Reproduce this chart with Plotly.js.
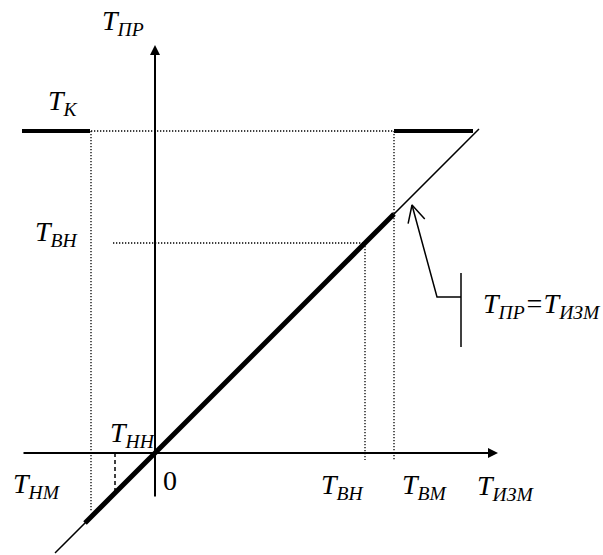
<!DOCTYPE html>
<html>
<head>
<meta charset="utf-8">
<script src="https://cdn.plot.ly/plotly-3.0.1.min.js"></script>
<style>html,body{margin:0;padding:0;background:#fff;}#chart{width:603px;height:555px;}</style>
</head>
<body>
<div id="chart"></div>
<script>
// Characteristic values (in the chart's own units, origin at 0)
const T_HM = -64;     // Т_НМ
const T_HH = -40;     // Т_НН
const T_BH = 210;     // Т_ВН
const T_BM = 239;     // Т_ВМ
const T_K  = 322;     // Т_К
const leftEnd = -133;  // left end of Т_К plateau
const rightEnd = 318;  // right end of Т_К plateau
const idealX = [-100, 324];       // ideal line Т_ПР = Т_ИЗМ
const workX  = [-70, T_BM];       // working (bold) part
const xAxisRange = [-133, 343];
const yAxisRange = [-45, 408];
const calloutTip = [257, 248];
const calloutElbow = [282, 156];
const calloutBar = [306, 106, 180];

const black = '#000';
const dotStyle = {color: '#000', width: 1.3, dash: '1.3px,1.7px'};
function seg(x, y, line) {
  return {type: 'scatter', mode: 'lines', x: x, y: y, line: line, hoverinfo: 'skip', showlegend: false};
}

// arrow wings for callout
const dx = calloutElbow[0] - calloutTip[0], dy = calloutElbow[1] - calloutTip[1];
const L = Math.hypot(dx, dy), ux = dx / L, uy = dy / L;
const wl = 19, ang = 27 * Math.PI / 180;
function rot(a) { return [calloutTip[0] + wl * (ux * Math.cos(a) - uy * Math.sin(a)), calloutTip[1] + wl * (ux * Math.sin(a) + uy * Math.cos(a))]; }
const w1 = rot(ang), w2 = rot(-ang);

const traces = [
  // dotted guide lines
  seg([T_HM, T_BM], [T_K, T_K], dotStyle),
  seg([T_HM, T_HM], [T_K, -59], dotStyle),
  seg([-42, T_BH], [T_BH, T_BH], dotStyle),
  seg([T_BH, T_BH], [T_BH, -7], dotStyle),
  seg([T_BM, T_BM], [T_K, -7], dotStyle),
  // dashed Т_НН
  seg([T_HH, T_HH], [0, T_HH], {color: black, width: 1.5, dash: '4px,3px'}),
  // ideal line
  seg(idealX, idealX, {color: black, width: 1.5}),
  // working bold part
  seg(workX, workX, {color: black, width: 5}),
  // Т_К plateaus
  seg([leftEnd, T_HM - 1], [T_K, T_K], {color: black, width: 4}),
  seg([T_BM, rightEnd], [T_K, T_K], {color: black, width: 4}),
  // callout
  seg([calloutTip[0], calloutElbow[0], calloutBar[0]], [calloutTip[1], calloutElbow[1], calloutElbow[1]], {color: black, width: 1.5}),
  seg([calloutBar[0], calloutBar[0]], [calloutBar[1], calloutBar[2]], {color: black, width: 1.5}),
  seg([w1[0], calloutTip[0], w2[0]], [w1[1], calloutTip[1], w2[1]], {color: black, width: 1.5})
];

const fam = 'Times New Roman, Liberation Serif, serif';
const font = {family: fam, size: 28, color: black};
function lab(text, x, y, xanchor) {
  return {text: '<i>' + text + '</i>', x: x, y: y, xref: 'x', yref: 'y', showarrow: false,
          xanchor: xanchor || 'left', yanchor: 'middle', font: font};
}
const annotations = [
  // axes with arrowheads
  {x: xAxisRange[1], y: 0, ax: xAxisRange[0], ay: 0, axref: 'x', ayref: 'y', xref: 'x', yref: 'y',
   showarrow: true, arrowhead: 2, arrowsize: 1, arrowwidth: 2, arrowcolor: black, text: ''},
  {x: 0, y: yAxisRange[1], ax: 0, ay: yAxisRange[0], axref: 'x', ayref: 'y', xref: 'x', yref: 'y',
   showarrow: true, arrowhead: 2, arrowsize: 1, arrowwidth: 2, arrowcolor: black, text: ''},
  lab('Т<sub>ПР</sub>', -55, 431),
  lab('Т<sub>К</sub>', -109, 351),
  lab('Т<sub>ВН</sub>', -122, 220),
  lab('Т<sub>НН</sub>', -47, 19),
  lab('Т<sub>НМ</sub>', -144, -32),
  {text: '0', x: 6, y: -27, xref: 'x', yref: 'y', showarrow: false, xanchor: 'left', yanchor: 'middle', font: font},
  lab('Т<sub>ВН</sub>', 164, -33),
  lab('Т<sub>ВМ</sub>', 245, -33),
  lab('Т<sub>ИЗМ</sub>', 320, -34),
  lab('Т<sub>ПР</sub>=Т<sub>ИЗМ</sub>', 326, 148)
];

const layout = {
  width: 603, height: 555,
  margin: {l: 0, r: 0, t: 0, b: 0},
  paper_bgcolor: '#fff', plot_bgcolor: '#fff',
  font: {family: fam},
  xaxis: {range: [-155, 448], visible: false, fixedrange: true},
  yaxis: {range: [-102, 453], visible: false, fixedrange: true},
  showlegend: false,
  annotations: annotations
};
Plotly.newPlot('chart', traces, layout, {staticPlot: true});
</script>
</body>
</html>
